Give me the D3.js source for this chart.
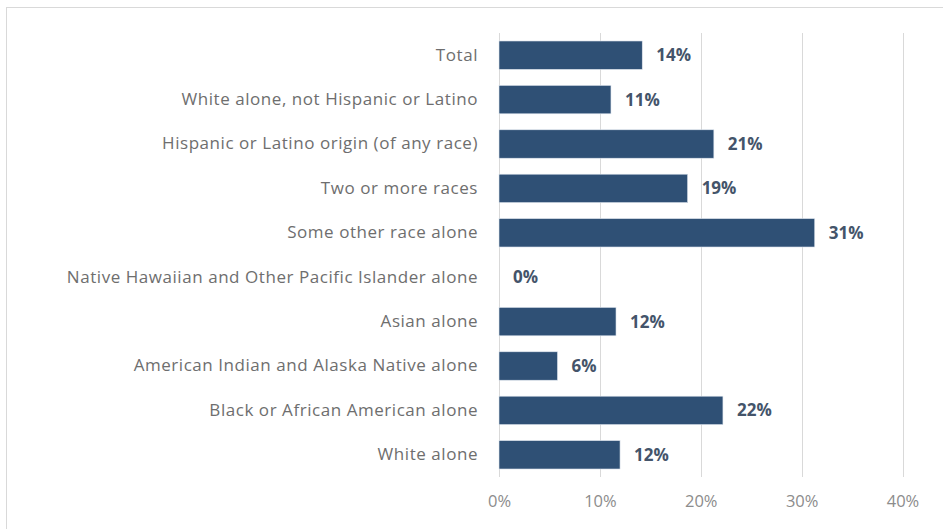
<!DOCTYPE html>
<html lang="en">
<head>
<meta charset="utf-8">
<title>Share by race and ethnicity</title>
<script src="https://cdn.jsdelivr.net/npm/d3@7/dist/d3.min.js"></script>
<style>
  body { margin: 0; background: #fff; }
  .axis text { font-family: "Open Sans", sans-serif; font-size: 16.5px; fill: #8c8c8c; }
  .cat text { font-family: "Open Sans", sans-serif; font-size: 17px; letter-spacing: 0.55px; fill: #6e6e6e; }
  .lbl { font-family: "Open Sans", sans-serif; font-size: 17px; font-weight: bold; fill: #44546a; }
</style>
</head>
<body>
<script>
// categories, top to bottom
const categories = [
  "Total",
  "White alone, not Hispanic or Latino",
  "Hispanic or Latino origin (of any race)",
  "Two or more races",
  "Some other race alone",
  "Native Hawaiian and Other Pacific Islander alone",
  "Asian alone",
  "American Indian and Alaska Native alone",
  "Black or African American alone",
  "White alone"
];
const values = [14.2, 11.1, 21.3, 18.7, 31.3, 0, 11.6, 5.8, 22.2, 12.0];
const labels = ["14%", "11%", "21%", "19%", "31%", "0%", "12%", "6%", "22%", "12%"];
const ticks = [0, 10, 20, 30, 40];

const W = 943, H = 529;
const margin = {top: 33, right: 40, bottom: 52, left: 499};

const svg = d3.select("body").append("svg")
  .attr("width", W).attr("height", H);

// outer frame
svg.append("rect")
  .attr("x", 6.5).attr("y", 7.5)
  .attr("width", W).attr("height", H)
  .attr("fill", "none").attr("stroke", "#d9d9d9");

const x = d3.scaleLinear().domain([0, 40]).range([margin.left, 902.5]);
const y = d3.scaleBand().domain(categories)
  .range([margin.top, H - margin.bottom]).paddingInner(0.36).paddingOuter(0.18);

// gridlines
svg.append("g").selectAll("line").data(ticks).join("line")
  .attr("x1", d => Math.round(x(d)) + 0.5).attr("x2", d => Math.round(x(d)) + 0.5)
  .attr("y1", margin.top).attr("y2", H - margin.bottom)
  .attr("stroke", "#d9d9d9");

// x axis labels
svg.append("g").attr("class", "axis")
  .attr("transform", `translate(0,${H - margin.bottom})`)
  .call(d3.axisBottom(x).tickValues(ticks).tickFormat(d => d + "%").tickSize(0).tickPadding(18))
  .call(g => g.select(".domain").remove());

// category labels
svg.append("g").attr("class", "cat")
  .attr("transform", `translate(${margin.left - 21},0)`)
  .call(d3.axisLeft(y).tickSize(0).tickPadding(0))
  .call(g => g.select(".domain").remove());

// bars
svg.append("g").selectAll("rect").data(values).join("rect")
  .attr("x", x(0))
  .attr("y", (d, i) => y(categories[i]))
  .attr("width", d => x(d) - x(0))
  .attr("height", y.bandwidth())
  .attr("fill", "#2f5075")
  .attr("stroke", "#dfe6ee").attr("stroke-width", 0.6);

// value labels
svg.append("g").selectAll("text").data(values).join("text")
  .attr("class", "lbl")
  .attr("x", d => x(d) + 14)
  .attr("y", (d, i) => y(categories[i]) + y.bandwidth() / 2)
  .attr("dy", "0.35em")
  .text((d, i) => labels[i]);
</script>
</body>
</html>
